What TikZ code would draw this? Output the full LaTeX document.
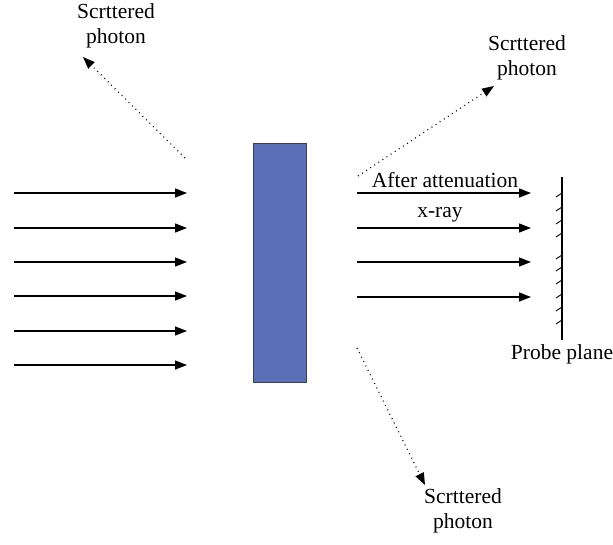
\documentclass[tikz,border=0pt]{standalone}
\usepackage{fontspec}
\setmainfont{Liberation Serif}
\usetikzlibrary{arrows.meta}
\definecolor{slab}{HTML}{5B6FB8}
\definecolor{slabedge}{HTML}{3A3F4A}
\begin{document}
\begin{tikzpicture}[x=1pt,y=-1pt,
  ray/.style={line width=1.3pt, -{Triangle[length=12pt,width=9pt]}},
  scat/.style={line width=1.2pt, dash pattern=on 0.9pt off 4pt, -{Triangle[length=12pt,width=9pt]}},
  lbl/.style={font=\fontsize{21.5}{25}\selectfont, inner sep=0pt, align=center},
  tick/.style={line width=0.9pt}]
\useasboundingbox (0,0) rectangle (613,544);
\node[draw=slabedge, fill=slab, line width=1pt, minimum width=53pt, minimum height=239pt, inner sep=0pt] (slab) at (279.5,262.5) {};
% incoming rays
\foreach \y [count=\i] in {193,228,262,296,331,365}{
  \coordinate (inA\i) at (14,\y);
  \coordinate (inB\i) at (187,\y);
  \draw[ray] (inA\i) -- (inB\i);
}
% outgoing rays
\foreach \y [count=\i] in {193,228,262,297}{
  \coordinate (outA\i) at (357,\y);
  \coordinate (outB\i) at (531,\y);
  \draw[ray] (outA\i) -- (outB\i);
}
\node[lbl] (after) at (445,180) {After attenuation};
\node[lbl] (xray) at (440,215) {x-ray};
% probe plane
\coordinate (pTop) at (562,177);
\coordinate (pBot) at (562,340);
\draw[line width=1.1pt] (pTop) -- (pBot);
\foreach \y in {193,207,220,233,255,267,280,294,307,320}{
  \draw[tick] (562,\y) -- (556,\y+4);
}
\node[lbl, anchor=center] (probe) at (562,354) {Probe plane};
% scattered photons
\coordinate (s1a) at (185,158);
\coordinate (s1b) at (83,57);
\draw[scat] (s1a) -- (s1b);
\node[lbl] (t1) at (116,26) {Scrttered\\photon};
\coordinate (s2a) at (358,176);
\coordinate (s2b) at (494,86);
\draw[scat] (s2a) -- (s2b);
\node[lbl] (t2) at (527,58) {Scrttered\\photon};
\coordinate (s3a) at (357,348);
\coordinate (s3b) at (425,485);
\draw[scat] (s3a) -- (s3b);
\node[lbl] (t3) at (463,511) {Scrttered\\photon};
\end{tikzpicture}
\end{document}
